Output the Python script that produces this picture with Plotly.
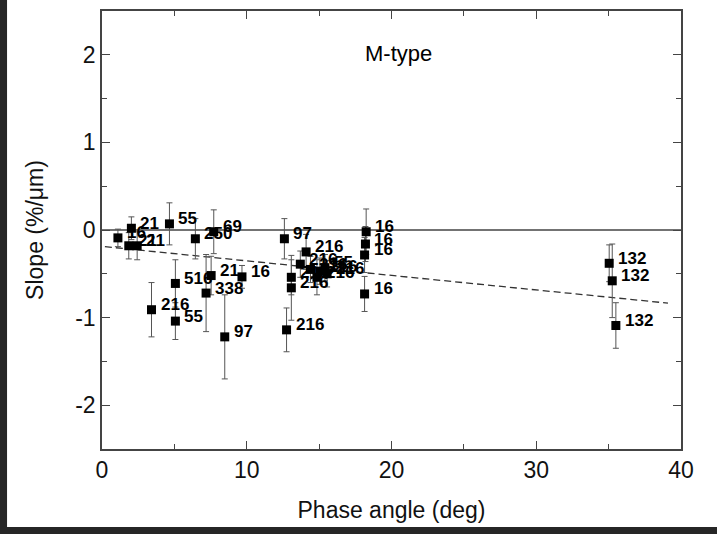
import plotly.graph_objects as go

# ---- data ----
phase = [1.10, 2.03, 1.85, 2.43, 3.42, 4.66, 5.07, 5.07, 6.45, 7.19, 7.54, 7.72, 8.48, 9.67,
         12.60, 12.75, 13.08, 13.08, 13.70, 14.10, 14.40, 15.05, 15.40, 15.55, 14.85,
         18.25, 18.20, 18.14, 18.14, 35.04, 35.25, 35.50]
slope = [-0.09, 0.02, -0.18, -0.18, -0.91, 0.07, -0.61, -1.04, -0.10, -0.72, -0.52, -0.02, -1.22, -0.535,
         -0.10, -1.14, -0.54, -0.66, -0.39, -0.25, -0.45, -0.47, -0.43, -0.50, -0.54,
         -0.02, -0.16, -0.285, -0.73, -0.38, -0.58, -1.09]
slope_err = [0.10, 0.13, 0.15, 0.16, 0.31, 0.24, 0.27, 0.21, 0.23, 0.44, 0.22, 0.25, 0.48, 0.13,
             0.23, 0.25, 0.20, 0.37, 0.15, 0.20, 0.15, 0.15, 0.15, 0.15, 0.20,
             0.26, 0.20, 0.20, 0.20, 0.21, 0.42, 0.26]
labels = ["16", "21", "21", "21", "216", "55", "516", "55", "250", "338", "21", "69", "97", "16",
          "97", "216", "216", "216", "216", "216", "216", "216", "55", "216", "216",
          "16", "16", "16", "16", "132", "132", "132"]

fit_x = [0.2, 39.1]
fit_y = [-0.19, -0.835]
zero_x = [0, 40]
zero_y = [0, 0]

x_ticks = [0, 10, 20, 30, 40]
x_ticktext = ["0", "10", "20", "30", "40"]
y_ticks = [-2, -1, 0, 1, 2]
y_ticktext = ["-2", "-1", "0", "1", "2"]

FONT = "Liberation Sans, Arial, sans-serif"

fig = go.Figure()

fig.add_trace(go.Scatter(x=zero_x, y=zero_y, mode="lines",
                         line=dict(color="#444444", width=1.3), hoverinfo="skip", showlegend=False))
fig.add_trace(go.Scatter(x=fit_x, y=fit_y, mode="lines",
                         line=dict(color="#333333", width=1.3, dash="7px,4px"),
                         hoverinfo="skip", showlegend=False))
fig.add_trace(go.Scatter(
    x=phase, y=slope, mode="markers",
    marker=dict(symbol="square", size=9, color="black"),
    error_y=dict(type="data", array=slope_err, visible=True, color="#555555", thickness=1, width=3),
    showlegend=False))

for xv, yv, lab in zip(phase, slope, labels):
    fig.add_annotation(x=xv, y=yv, text=lab, showarrow=False, xanchor="left", yanchor="middle",
                       xshift=7, yshift=5,
                       font=dict(family=FONT, size=17, color="black", weight="bold"))

fig.add_annotation(x=20.5, y=2.02, text="M-type", showarrow=False,
                   font=dict(family=FONT, size=22, color="black"))

# page background: dark border with white panel
fig.add_shape(type="rect", xref="paper", yref="paper", x0=-0.164, x1=1.1, y0=-0.178, y1=1.1,
              fillcolor="white", line=dict(width=0), layer="below")

axis_common = dict(showline=True, linecolor="#444444", linewidth=1.5, mirror="ticks",
                   ticks="inside", ticklen=8, tickwidth=1.3, tickcolor="#444444",
                   showgrid=False, zeroline=False,
                   tickfont=dict(family=FONT, size=23, color="#111111"))

fig.update_xaxes(range=[0, 40], tickmode="array", tickvals=x_ticks, ticktext=x_ticktext,
                 minor=dict(ticks="inside", dtick=5, tick0=0, ticklen=5, tickcolor="#444444",
                            showgrid=False),
                 title=dict(text="Phase angle (deg)", standoff=20,
                            font=dict(family=FONT, size=23, color="#111111")),
                 **axis_common)
fig.update_yaxes(range=[-2.5, 2.5], tickmode="array", tickvals=y_ticks, ticktext=y_ticktext,
                 minor=dict(ticks="inside", dtick=0.5, tick0=0, ticklen=5, tickcolor="#444444",
                            showgrid=False),
                 title=dict(text="Slope (%/\u03bcm)", standoff=25,
                            font=dict(family=FONT, size=23, color="#111111")),
                 **axis_common)

fig.update_layout(width=717, height=534, margin=dict(l=102, r=36, t=11, b=85, autoexpand=False),
                  paper_bgcolor="#262626", plot_bgcolor="white")

fig.write_html("out.html")
